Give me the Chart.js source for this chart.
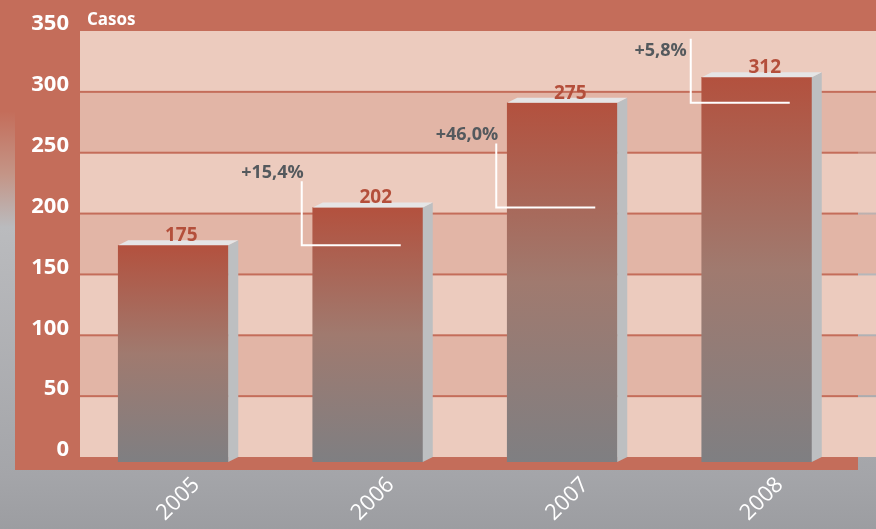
<!DOCTYPE html>
<html lang="pt-BR">
<head>
  <meta charset="UTF-8">
  <title>Casos 2005-2008</title>
  <script src="https://cdn.jsdelivr.net/npm/chart.js"></script>
  <style>
    html, body { margin: 0; padding: 0; background: #9fa0a4; }
    canvas { display: block; }
  </style>
</head>
<body>

<canvas id="grafico" width="876" height="529"></canvas>

<script>
  // dados
  const anos = ['2005', '2006', '2007', '2008'];
  const alturas = [174, 205, 291, 312];           // altura desenhada das barras
  const rotulos = ['175', '202', '275', '312'];   // números impressos sobre as barras
  const variacoes = ['', '+15,4%', '+46,0%', '+5,8%'];
  const marcasY = [0, 50, 100, 150, 200, 250, 300, 350];

  const VERMELHO = '#c46d5a';
  const BASE = -4.1;          // as barras descem um pouco abaixo da faixa do zero
  const DX = 10, DY = 5;      // profundidade do efeito 3D
  const FONTE = "'Open Sans', sans-serif";

  const fundo = {
    id: 'fundo',
    beforeDraw(chart) {
      const { ctx, width, height } = chart;
      const y = chart.scales.y;
      ctx.save();
      const g = ctx.createLinearGradient(0, 0, 0, height);
      g.addColorStop(0, VERMELHO);
      g.addColorStop(0.21, VERMELHO);
      g.addColorStop(0.33, '#c49587');
      g.addColorStop(0.43, '#babbbe');
      g.addColorStop(0.9, '#a4a5a9');
      g.addColorStop(1, '#9c9da1');
      ctx.fillStyle = g;
      ctx.fillRect(0, 0, width, height);

      ctx.fillStyle = VERMELHO;
      ctx.fillRect(15, 0, 843, 470);
      ctx.fillRect(858, 0, width - 858, y.getPixelForValue(350));

      // faixas alternadas; as linhas de grade são os vãos entre elas
      for (let i = 0; i < marcasY.length - 1; i++) {
        let y0 = y.getPixelForValue(marcasY[i + 1]);
        let y1 = y.getPixelForValue(marcasY[i]);
        if (i < marcasY.length - 2) y0 += 1;
        if (i > 0) y1 -= 1;
        ctx.fillStyle = i % 2 === 0 ? '#eccbbe' : '#e2b5a6';
        ctx.fillRect(80, y0, width - 80, y1 - y0);
      }
      ctx.restore();
    }
  };

  const detalhes = {
    id: 'detalhes',
    afterDatasetsDraw(chart) {
      const { ctx } = chart;
      const x = chart.scales.x, y = chart.scales.y;
      const barras = chart.getDatasetMeta(0).data;
      ctx.save();

      barras.forEach((b, i) => {
        const esq = b.x - b.width / 2, dir = b.x + b.width / 2;
        const topo = b.y, base = b.base;
        // lateral
        ctx.fillStyle = '#bdbfc1';
        ctx.beginPath();
        ctx.moveTo(dir, topo);
        ctx.lineTo(dir + DX, topo - DY);
        ctx.lineTo(dir + DX, base - DY);
        ctx.lineTo(dir, base);
        ctx.closePath();
        ctx.fill();
        // tampa
        ctx.fillStyle = '#e5e5e6';
        ctx.beginPath();
        ctx.moveTo(esq, topo);
        ctx.lineTo(esq + DX, topo - DY);
        ctx.lineTo(dir + DX, topo - DY);
        ctx.lineTo(dir, topo);
        ctx.closePath();
        ctx.fill();
        // número
        ctx.fillStyle = '#b44f3b';
        ctx.font = 'bold 19px ' + FONTE;
        ctx.textAlign = 'center';
        ctx.textBaseline = 'alphabetic';
        ctx.fillText(rotulos[i], b.x + 8, topo - 4);
      });

      // variações com colchete branco
      for (let i = 1; i < anos.length; i++) {
        const cx = x.getPixelForValue(i);
        const lx = cx - 66;
        const ly = y.getPixelForValue(alturas[i - 1]);
        const topoLinha = ly - 64;
        ctx.strokeStyle = '#ffffff';
        ctx.lineWidth = 2;
        ctx.beginPath();
        ctx.moveTo(lx, topoLinha);
        ctx.lineTo(lx, ly);
        ctx.lineTo(cx + 33, ly);
        ctx.stroke();

        ctx.fillStyle = '#54595d';
        ctx.font = 'bold 18px ' + FONTE;
        ctx.textAlign = 'right';
        ctx.textBaseline = 'alphabetic';
        if (i < anos.length - 1) {
          ctx.fillText(variacoes[i], lx + 2, topoLinha - 3);
        } else {
          ctx.fillText(variacoes[i], lx - 4, topoLinha + 17);
        }
      }

      // título do eixo
      ctx.fillStyle = '#ffffff';
      ctx.font = 'bold 17px ' + FONTE;
      ctx.textAlign = 'left';
      ctx.fillText('Casos', 87, 25);
      ctx.restore();
    }
  };

  new Chart(document.getElementById('grafico'), {
    type: 'bar',
    data: {
      labels: anos,
      datasets: [{
        data: alturas,
        base: BASE,
        barThickness: 110,
        borderWidth: 0,
        backgroundColor(c) {
          const chart = c.chart;
          if (!chart.chartArea || c.dataIndex === undefined) return '#a0706a';
          const y = chart.scales.y;
          const topo = y.getPixelForValue(alturas[c.dataIndex]);
          const base = y.getPixelForValue(BASE);
          const g = chart.ctx.createLinearGradient(0, topo, 0, base);
          g.addColorStop(0, '#b3513e');
          g.addColorStop(0.5, '#a07a6f');
          g.addColorStop(1, '#7f7f82');
          return g;
        }
      }]
    },
    options: {
      responsive: false,
      animation: false,
      events: [],
      layout: { padding: { top: 31, right: 22, left: 0, bottom: 0 } },
      plugins: {
        legend: { display: false },
        tooltip: { enabled: false }
      },
      scales: {
        x: {
          grid: { display: false, drawTicks: false },
          border: { display: false },
          afterFit(s) { s.height = 67; },
          ticks: {
            color: '#ffffff',
            font: { family: FONTE, size: 22, weight: 'normal' },
            minRotation: 45,
            maxRotation: 45,
            autoSkip: false,
            labelOffset: 23,
            padding: 10
          }
        },
        y: {
          min: BASE,
          max: 350,
          grid: { display: false, drawTicks: false },
          border: { display: false },
          afterBuildTicks(s) { s.ticks = marcasY.map(v => ({ value: v })); },
          afterFit(s) { s.width = 76; },
          ticks: {
            color: '#ffffff',
            font: { family: FONTE, size: 22, weight: 'bold' },
            padding: 7,
            labelOffset: -7
          }
        }
      }
    },
    plugins: [fundo, detalhes]
  });
</script>

</body>
</html>
